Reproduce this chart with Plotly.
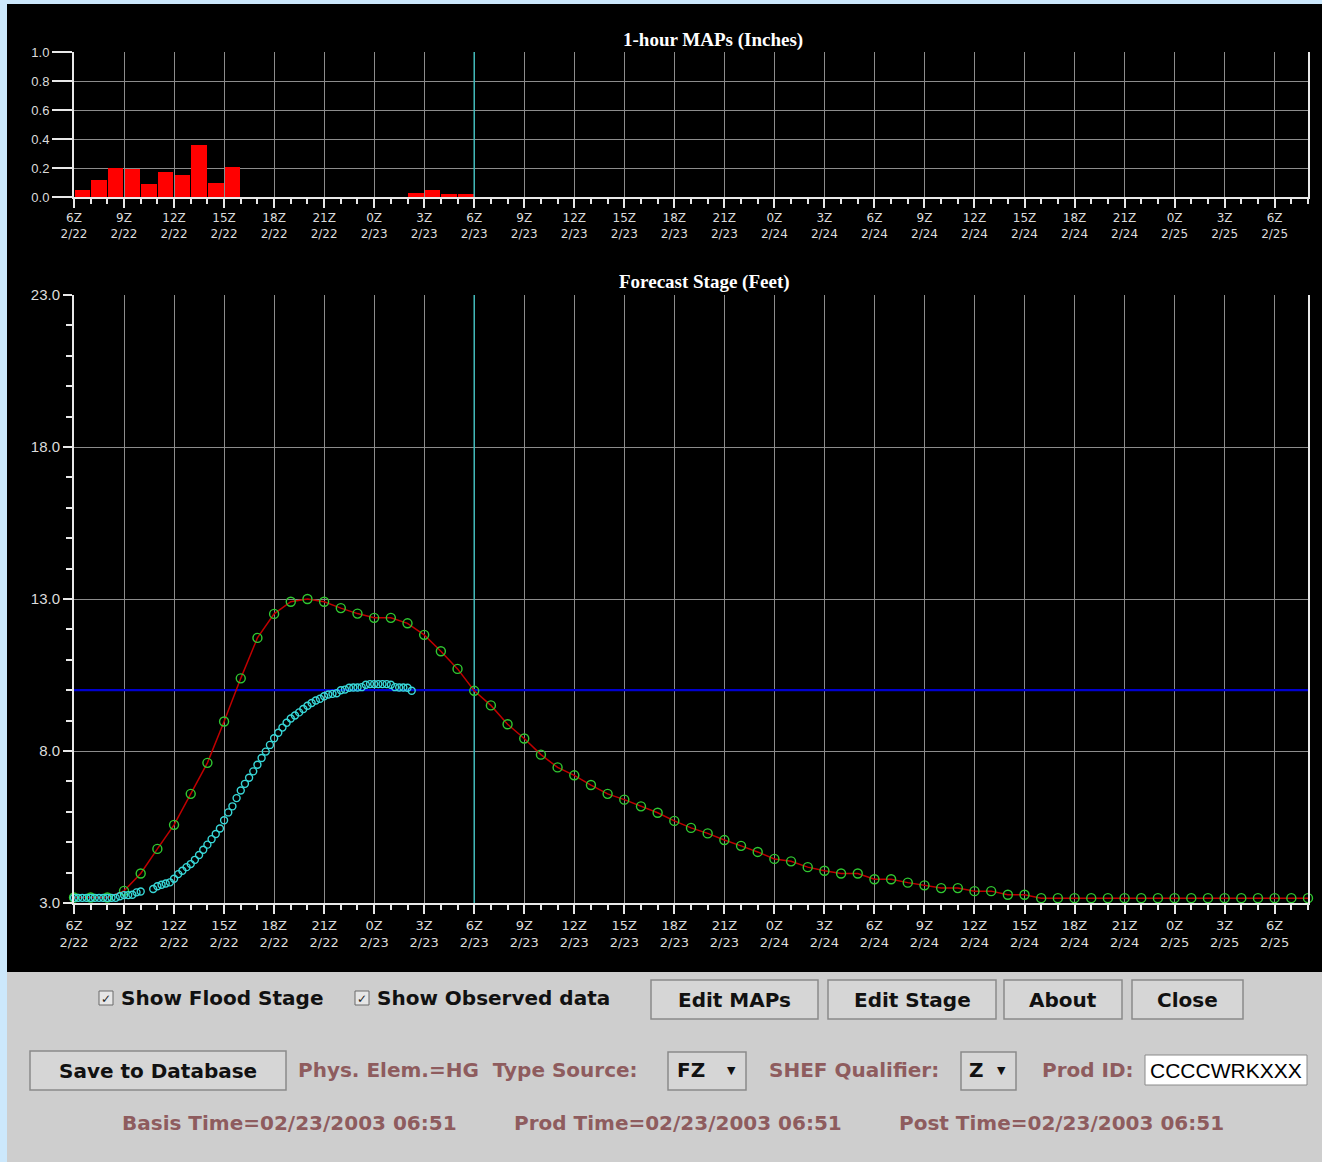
import pandas as pd
import plotly.graph_objects as go

# The page adds an 8px body margin; the figure fills the rest of the 1322x1162 window.
PAGE_W, PAGE_H = 1322, 1162
OFF = 8
W, H = PAGE_W - 2 * OFF, PAGE_H - 2 * OFF

# ---------------- data ----------------
start_time = "2003-02-22 06:00"
end_time = "2003-02-25 08:00"
now_time = "2003-02-23 06:00"
flood_stage = 10.0

map_values = [0.05, 0.12, 0.20, 0.19, 0.09, 0.17, 0.15, 0.36, 0.10, 0.21,
              0, 0, 0, 0, 0, 0, 0, 0, 0, 0,
              0.03, 0.05, 0.02, 0.02]

forecast_values = [3.18, 3.18, 3.18, 3.40, 3.97, 4.78, 5.57, 6.59, 7.61, 8.97,
                   10.39, 11.72, 12.51, 12.91, 13.00, 12.91, 12.70, 12.52, 12.38, 12.38,
                   12.20, 11.82, 11.28, 10.70, 9.98, 9.50, 8.88, 8.41, 7.88, 7.46,
                   7.20, 6.88, 6.59, 6.40, 6.18, 5.97, 5.70, 5.47, 5.29, 5.07,
                   4.88, 4.68, 4.45, 4.37, 4.18, 4.06, 3.97, 3.97, 3.78, 3.78,
                   3.67, 3.58, 3.49, 3.49, 3.39, 3.39, 3.27, 3.27, 3.16, 3.16,
                   3.16, 3.16, 3.16, 3.16, 3.16, 3.16, 3.16, 3.16, 3.16, 3.16,
                   3.16, 3.16, 3.16, 3.16, 3.16]

observed_values = [3.17, 3.17, 3.17, 3.17, 3.17, 3.17, 3.17, 3.17, 3.17, 3.17,
                   3.17, 3.22, 3.26, 3.26, 3.27, 3.35, 3.38, None, None, 3.46,
                   3.55, 3.60, 3.64, 3.68, 3.80, 3.95, 4.06, 4.18, 4.28, 4.42,
                   4.58, 4.75, 4.92, 5.10, 5.27, 5.45, 5.72, 5.98, 6.18, 6.45,
                   6.70, 6.92, 7.12, 7.33, 7.55, 7.77, 7.98, 8.20, 8.42, 8.60,
                   8.77, 8.93, 9.07, 9.17, 9.27, 9.38, 9.49, 9.58, 9.66, 9.72,
                   9.80, 9.86, 9.88, 9.90, 10.00, 10.02, 10.08, 10.09, 10.09, 10.10,
                   10.18, 10.20, 10.20, 10.20, 10.20, 10.20, 10.18, 10.10, 10.09, 10.09,
                   10.08, 9.98]

tick_times = pd.date_range("2003-02-22 06:00", "2003-02-25 06:00", freq="3h")
tick_labels = [f"{t.hour}Z<br>{t.month}/{t.day}" for t in tick_times]

map_times = pd.date_range(start_time, periods=len(map_values), freq="1h") + pd.Timedelta(minutes=30)
forecast_times = pd.date_range(start_time, periods=len(forecast_values), freq="1h")
observed_times = pd.date_range(start_time, periods=len(observed_values), freq="15min")

# ---------------- helpers (page pixel -> paper) ----------------
def px(x):
    return min(max((x - OFF) / W, 0), 1)

def py(y):
    return min(max(1 - (y - OFF) / H, 0), 1)

AX_L, AX_R = 74, 1308
TOP_T, TOP_B = 52, 197
BOT_T, BOT_B = 295, 903

fig = go.Figure()

# MAP bars
fig.add_trace(go.Bar(x=map_times, y=map_values, width=3600000 * 0.93,
                     marker=dict(color="#ff0000", line=dict(width=0)),
                     xaxis="x", yaxis="y", showlegend=False))

# current-time markers (vertical lines)
fig.add_trace(go.Scatter(x=[now_time, now_time], y=[0, 1], mode="lines",
                         line=dict(color="#40b8b8", width=1.5), xaxis="x", yaxis="y",
                         showlegend=False, hoverinfo="skip"))
fig.add_trace(go.Scatter(x=[now_time, now_time], y=[3, 23], mode="lines",
                         line=dict(color="#40b8b8", width=1.5), xaxis="x2", yaxis="y2",
                         showlegend=False, hoverinfo="skip"))

# flood stage line
fig.add_trace(go.Scatter(x=[start_time, end_time], y=[flood_stage, flood_stage], mode="lines",
                         line=dict(color="#0000d0", width=2.2), xaxis="x2", yaxis="y2",
                         showlegend=False, hoverinfo="skip"))

# forecast
fig.add_trace(go.Scatter(x=forecast_times, y=forecast_values, mode="lines+markers",
                         line=dict(color="#c00000", width=1.5),
                         marker=dict(symbol="circle-open", size=9, color="#30c830",
                                     line=dict(width=1.4, color="#30c830")),
                         cliponaxis=False, xaxis="x2", yaxis="y2", showlegend=False))

# observed
fig.add_trace(go.Scatter(x=observed_times, y=observed_values, mode="markers",
                         marker=dict(symbol="circle-open", size=7, color="#38d8d8",
                                     line=dict(width=1.4, color="#38d8d8")),
                         cliponaxis=False, xaxis="x2", yaxis="y2", showlegend=False))

def xaxis_common(anchor, font_size):
    return dict(type="date", range=[start_time, end_time], domain=[px(AX_L), px(AX_R)],
                anchor=anchor, tickmode="array", tickvals=tick_times, ticktext=tick_labels,
                ticks="outside", ticklen=9, tickwidth=2, tickcolor="#e8e8e8",
                showgrid=True, gridcolor="#8c8c8c", gridwidth=1, zeroline=False,
                showline=True, linecolor="#e8e8e8", linewidth=2, automargin=False,
                tickfont=dict(family="DejaVu Sans", size=font_size, color="#dcdcdc"),
                minor=dict(tickmode="linear", tick0=start_time, dtick=3600000,
                           ticks="outside", ticklen=5, tickwidth=2, tickcolor="#e8e8e8",
                           showgrid=False))

fig.update_layout(
    width=W, height=H,
    margin=dict(l=0, r=0, t=0, b=0, pad=0, autoexpand=False),
    paper_bgcolor="#000000",
    plot_bgcolor="#000000",
    bargap=0,
    xaxis=xaxis_common("y", 12),
    xaxis2=xaxis_common("y2", 13),
    yaxis=dict(domain=[py(TOP_B), py(TOP_T)], range=[0, 1], anchor="x",
               tickmode="linear", tick0=0, dtick=0.2, tickformat=".1f",
               ticks="outside", ticklen=20, tickwidth=2, tickcolor="#e8e8e8",
               showgrid=True, gridcolor="#8c8c8c", zeroline=False,
               showline=True, linecolor="#e8e8e8", linewidth=2, mirror=True, automargin=False,
               tickfont=dict(family="Liberation Sans", size=13, color="#dcdcdc")),
    yaxis2=dict(domain=[py(BOT_B), py(BOT_T)], range=[3, 23], anchor="x2",
                tickmode="array", tickvals=[3, 8, 13, 18, 23],
                ticktext=["3.0", "8.0", "13.0", "18.0", "23.0"],
                ticks="outside", ticklen=9, tickwidth=2, tickcolor="#e8e8e8",
                showgrid=True, gridcolor="#8c8c8c", zeroline=False,
                showline=True, linecolor="#e8e8e8", linewidth=2, mirror=True, automargin=False,
                tickfont=dict(family="Liberation Sans", size=15, color="#dcdcdc"),
                minor=dict(tickmode="linear", tick0=3, dtick=1, ticks="outside",
                           ticklen=6, tickwidth=2, tickcolor="#e8e8e8", showgrid=False)),
    showlegend=False,
)

shapes = []
# gray control panel
shapes.append(dict(type="rect", xref="paper", yref="paper", x0=0, x1=1, y0=0, y1=py(972),
                   fillcolor="#cecece", line=dict(width=0), layer="below"))

annotations = []
title_font = dict(family="Liberation Serif", size=19, color="#ffffff")
annotations.append(dict(text="<b>1-hour MAPs (Inches)</b>", xref="paper", yref="paper",
                        x=px(713), y=py(40), showarrow=False, font=title_font,
                        xanchor="center", yanchor="middle"))
annotations.append(dict(text="<b>Forecast Stage (Feet)</b>", xref="paper", yref="paper",
                        x=px(705), y=py(282), showarrow=False, font=title_font,
                        xanchor="center", yanchor="middle"))

ui_font = "DejaVu Sans"
label_color = "#8e5c5e"
UI_SIZE = 20

def button(x0, x1, y0, y1, text, size=UI_SIZE):
    shapes.append(dict(type="rect", xref="paper", yref="paper", x0=px(x0), x1=px(x1),
                       y0=py(y1), y1=py(y0), fillcolor="#d6d6d6",
                       line=dict(color="#8a8a8a", width=1.5)))
    annotations.append(dict(text=f"<b>{text}</b>", xref="paper", yref="paper",
                            x=px((x0 + x1) / 2), y=py((y0 + y1) / 2), showarrow=False,
                            font=dict(family=ui_font, size=size, color="#111111"),
                            xanchor="center", yanchor="middle"))

def label(x, y, text, size=UI_SIZE, color=label_color, anchor="left"):
    annotations.append(dict(text=f"<b>{text}</b>", xref="paper", yref="paper",
                            x=px(x), y=py(y), showarrow=False,
                            font=dict(family=ui_font, size=size, color=color),
                            xanchor=anchor, yanchor="middle"))

def checkbox(x, y, text):
    shapes.append(dict(type="rect", xref="paper", yref="paper", x0=px(x), x1=px(x + 14),
                       y0=py(y + 7), y1=py(y - 7), fillcolor="#e6e6e6",
                       line=dict(color="#6a6a6a", width=1)))
    annotations.append(dict(text="<b>✓</b>", xref="paper", yref="paper", x=px(x + 7), y=py(y + 1),
                            showarrow=False, font=dict(family=ui_font, size=12, color="#222222"),
                            xanchor="center", yanchor="middle"))
    label(x + 20, y, text, color="#111111")

checkbox(99, 998, "Show Flood Stage")
checkbox(355, 998, "Show Observed data")
button(651, 818, 980, 1019, "Edit MAPs")
button(828, 996, 980, 1019, "Edit Stage")
button(1004, 1122, 980, 1019, "About")
button(1132, 1243, 980, 1019, "Close")
button(30, 286, 1051, 1090, "Save to Database")
label(296, 1070, "Phys. Elem.=HG  Type Source:")

# dropdown FZ
shapes.append(dict(type="rect", xref="paper", yref="paper", x0=px(668), x1=px(746),
                   y0=py(1090), y1=py(1052), fillcolor="#d6d6d6", line=dict(color="#8a8a8a", width=1.5)))
label(675, 1070, "FZ", color="#111111")
label(731, 1070, "▼", size=11, color="#111111", anchor="center")
label(767, 1070, "SHEF Qualifier:")
# dropdown Z
shapes.append(dict(type="rect", xref="paper", yref="paper", x0=px(961), x1=px(1016),
                   y0=py(1090), y1=py(1052), fillcolor="#d6d6d6", line=dict(color="#8a8a8a", width=1.5)))
label(967, 1070, "Z", color="#111111")
label(1001, 1070, "▼", size=11, color="#111111", anchor="center")
label(1040, 1070, "Prod ID:")
shapes.append(dict(type="rect", xref="paper", yref="paper", x0=px(1145), x1=px(1307),
                   y0=py(1085), y1=py(1055), fillcolor="#ffffff", line=dict(color="#8a8a8a", width=1)))
annotations.append(dict(text="CCCCWRKXXX", xref="paper", yref="paper", x=px(1226), y=py(1070),
                        showarrow=False, font=dict(family="Liberation Sans", size=21, color="#000000"),
                        xanchor="center", yanchor="middle"))
label(289, 1123, "Basis Time=02/23/2003 06:51", anchor="center")
label(678, 1123, "Prod Time=02/23/2003 06:51", anchor="center")
label(1061, 1123, "Post Time=02/23/2003 06:51", anchor="center")

fig.update_layout(shapes=shapes, annotations=annotations)

page_bg = ("document.body.style.background="
           "'linear-gradient(to right, #cce8fc 7px, transparent 7px), "
           "linear-gradient(to bottom, #cce8fc 4px, #000000 4px, #000000 972px, #cecece 972px)';"
           "document.body.style.backgroundColor='#cecece';")
fig.write_html("out.html", post_script=page_bg)
